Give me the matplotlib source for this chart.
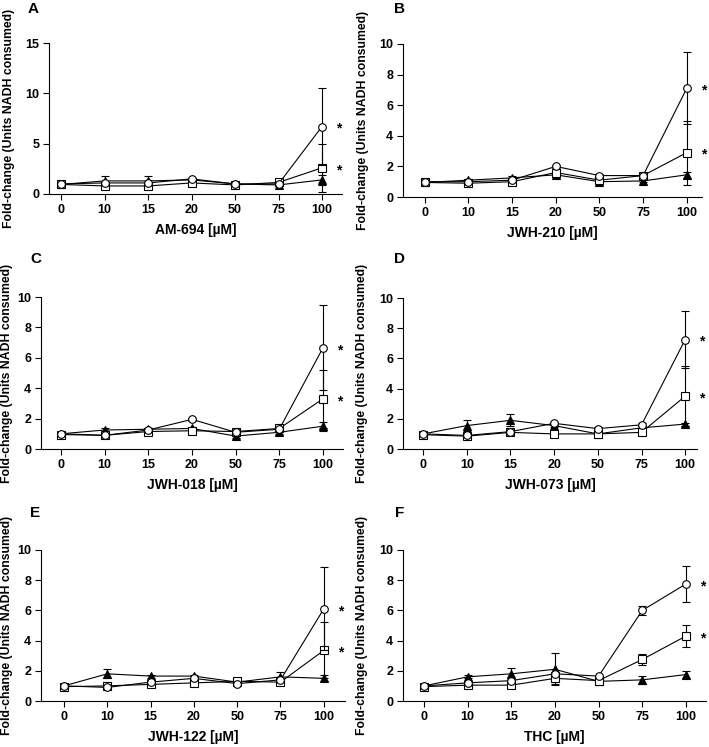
import matplotlib
matplotlib.use("Agg")
import matplotlib.pyplot as plt

plt.rcParams["font.family"] = ["Liberation Sans", "DejaVu Sans"]
plt.rcParams["font.weight"] = "bold"

conc_labels = ["0", "10", "15", "20", "50", "75", "100"]

panel_letters = ["A", "B", "C", "D", "E", "F"]
compounds = ["AM-694", "JWH-210", "JWH-018", "JWH-073", "JWH-122", "THC"]
y_max = [15, 10, 10, 10, 10, 10]

# open circle series
a_circle = [1.0, 1.1, 1.1, 1.5, 1.0, 1.0, 6.7]
b_circle = [1.0, 1.0, 1.1, 2.0, 1.4, 1.4, 7.1]
c_circle = [1.0, 0.9, 1.25, 1.95, 1.1, 1.3, 6.65]
d_circle = [1.0, 0.9, 1.15, 1.7, 1.35, 1.6, 7.25]
e_circle = [1.0, 0.9, 1.25, 1.5, 1.15, 1.4, 6.1]
f_circle = [1.0, 1.2, 1.35, 1.8, 1.65, 6.0, 7.75]

a_circle_err = [0.1, 0.1, 0.1, 0.1, 0.1, 0.1, 3.8]
b_circle_err = [0.1, 0.1, 0.1, 0.1, 0.1, 0.1, 2.35]
c_circle_err = [0.1, 0.1, 0.1, 0.1, 0.1, 0.1, 2.8]
d_circle_err = [0.1, 0.1, 0.1, 0.1, 0.1, 0.1, 1.9]
e_circle_err = [0.1, 0.1, 0.1, 0.1, 0.1, 0.1, 2.75]
f_circle_err = [0.1, 0.1, 0.1, 0.1, 0.1, 0.3, 1.2]

# open square series
a_square = [0.95, 0.8, 0.8, 1.1, 0.9, 1.15, 2.6]
b_square = [0.95, 0.9, 1.0, 1.6, 1.1, 1.4, 2.9]
c_square = [0.95, 0.9, 1.15, 1.2, 1.15, 1.35, 3.3]
d_square = [0.95, 0.85, 1.1, 1.0, 1.0, 1.1, 3.5]
e_square = [0.95, 1.0, 1.1, 1.2, 1.3, 1.25, 3.35]
f_square = [0.95, 1.05, 1.05, 1.5, 1.35, 2.75, 4.3]

a_square_err = [0.1, 0.1, 0.1, 0.1, 0.1, 0.1, 2.4]
b_square_err = [0.1, 0.1, 0.1, 0.1, 0.1, 0.1, 2.1]
c_square_err = [0.1, 0.1, 0.1, 0.1, 0.1, 0.1, 1.9]
d_square_err = [0.1, 0.1, 0.1, 0.1, 0.1, 0.1, 2.0]
e_square_err = [0.1, 0.1, 0.1, 0.1, 0.1, 0.1, 1.85]
f_square_err = [0.1, 0.1, 0.1, 0.35, 0.1, 0.35, 0.75]

# filled triangle series
a_tri = [0.95, 1.3, 1.3, 1.4, 1.0, 0.9, 1.4]
b_tri = [0.95, 1.1, 1.25, 1.45, 1.0, 1.05, 1.45]
c_tri = [1.0, 1.25, 1.3, 1.35, 0.85, 1.1, 1.5]
d_tri = [1.0, 1.55, 1.9, 1.55, 1.0, 1.4, 1.65]
e_tri = [1.0, 1.8, 1.65, 1.65, 1.25, 1.6, 1.5]
f_tri = [1.0, 1.6, 1.8, 2.1, 1.3, 1.4, 1.75]

a_tri_err = [0.1, 0.5, 0.5, 0.1, 0.1, 0.1, 0.5]
b_tri_err = [0.1, 0.1, 0.1, 0.1, 0.1, 0.1, 0.2]
c_tri_err = [0.1, 0.1, 0.1, 0.1, 0.1, 0.1, 0.3]
d_tri_err = [0.1, 0.35, 0.4, 0.1, 0.1, 0.1, 0.1]
e_tri_err = [0.1, 0.3, 0.1, 0.1, 0.1, 0.3, 0.2]
f_tri_err = [0.1, 0.1, 0.4, 1.05, 0.1, 0.25, 0.25]

circles = [a_circle, b_circle, c_circle, d_circle, e_circle, f_circle]
circle_errs = [a_circle_err, b_circle_err, c_circle_err, d_circle_err, e_circle_err, f_circle_err]
squares = [a_square, b_square, c_square, d_square, e_square, f_square]
square_errs = [a_square_err, b_square_err, c_square_err, d_square_err, e_square_err, f_square_err]
tris = [a_tri, b_tri, c_tri, d_tri, e_tri, f_tri]
tri_errs = [a_tri_err, b_tri_err, c_tri_err, d_tri_err, e_tri_err, f_tri_err]

W, H = 709, 747

# axes boxes in pixels: left, right, top, bottom
boxes = [
    (49, 342, 43, 194),
    (403, 702, 44, 197),
    (41, 343, 297, 449),
    (403, 697, 298, 449),
    (41, 345, 550, 701),
    (403, 706, 550, 701),
]
xlims = [(-0.28, 6.46), (-0.50, 6.35), (-0.46, 6.46),
         (-0.46, 6.27), (-0.53, 6.49), (-0.48, 6.46)]
# right edge of the rotated y label, in pixels
ylabel_x = [15, 369, 13, 368, 13, 368]
letter_pos = [(28, 9), (394, 9), (30, 259), (394, 259), (30, 513), (395, 513)]

fig = plt.figure(figsize=(W / 100, H / 100), dpi=100)

x = list(range(len(conc_labels)))

for i in range(6):
    left, right, top, bottom = boxes[i]
    ax = fig.add_axes([left / W, 1 - bottom / H, (right - left) / W, (bottom - top) / H])

    style = dict(color="black", lw=0.8, elinewidth=0.8, capsize=3, capthick=0.8,
                 markeredgecolor="black", markeredgewidth=0.8, markersize=5.5)
    ax.errorbar(x, tris[i], yerr=tri_errs[i], marker="^", markerfacecolor="black",
                zorder=3, **style)
    ax.errorbar(x, squares[i], yerr=square_errs[i], marker="s", markerfacecolor="white",
                zorder=4, **style)
    ax.errorbar(x, circles[i], yerr=circle_errs[i], marker="o", markerfacecolor="white",
                zorder=5, **style)

    # significance marks at the highest concentration
    for v in (circles[i][-1], squares[i][-1]):
        ax.text(6.38, v - 0.015 * y_max[i], "*", fontsize=10, fontweight="bold",
                ha="center", va="center")

    ax.set_xlim(*xlims[i])
    ax.set_ylim(0, y_max[i])
    if y_max[i] == 15:
        ax.set_yticks([0, 5, 10, 15])
    else:
        ax.set_yticks([0, 2, 4, 6, 8, 10])
    ax.set_xticks(x)
    ax.set_xticklabels(conc_labels)

    ax.spines["top"].set_visible(False)
    ax.spines["right"].set_visible(False)
    ax.spines["left"].set_linewidth(0.8)
    ax.spines["bottom"].set_linewidth(0.8)
    ax.tick_params(direction="out", length=4, width=0.8, labelsize=9, pad=3)
    for lab in ax.get_xticklabels() + ax.get_yticklabels():
        lab.set_fontweight("bold")

    ax.set_xlabel(compounds[i] + " [µM]", fontsize=10, fontweight="bold", labelpad=5)
    ax.set_ylabel("Fold-change (Units NADH consumed)", fontsize=8.8, fontweight="bold")
    ax.yaxis.set_label_coords(ylabel_x[i] / W, 1 - (top + bottom) / 2 / H,
                              transform=fig.transFigure)

    lx, ly = letter_pos[i]
    fig.text(lx / W, 1 - ly / H, panel_letters[i], fontsize=11, fontweight="bold",
             ha="left", va="center")

fig.savefig("out.png", dpi=100)
